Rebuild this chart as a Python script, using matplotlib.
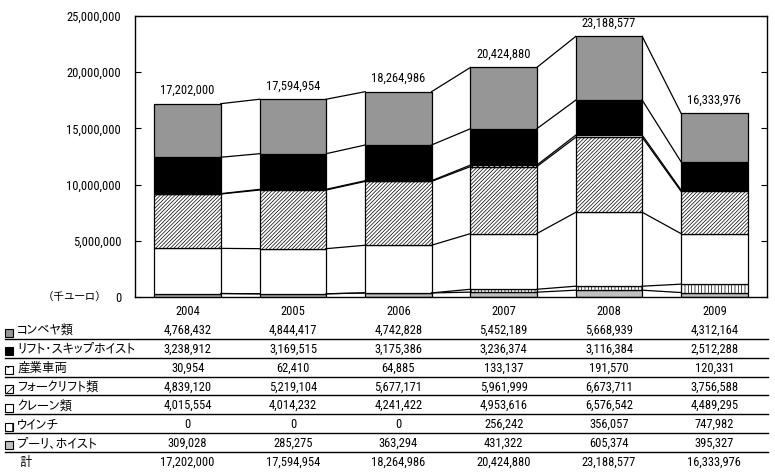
import matplotlib
matplotlib.use('Agg')
import matplotlib.pyplot as plt
import matplotlib.patches as mpatches
import matplotlib.transforms as mtransforms
from matplotlib.ticker import FuncFormatter
import numpy as np

# データ（千ユーロ）
years = ['2004', '2005', '2006', '2007', '2008', '2009']
pulley = [309028, 285275, 363294, 431322, 605374, 395327]
winch = [0, 0, 0, 256242, 356057, 747982]
crane = [4015554, 4014232, 4241422, 4953616, 6576542, 4489295]
forklift = [4839120, 5219104, 5677171, 5961999, 6673711, 3756588]
industrial = [30954, 62410, 64885, 133137, 191570, 120331]
skip_hoist = [3238912, 3169515, 3175386, 3236374, 3116384, 2512288]
conveyor = [4768432, 4844417, 4742828, 5452189, 5668939, 4312164]
totals = [17202000, 17594954, 18264986, 20424880, 23188577, 16333976]

# 下から積む順 (名前, 値, 色, バーのハッチ, 凡例のハッチ)
series = [
    ('プーリ、ホイスト', pulley, '#c0c0c0', None, None),
    ('ウインチ', winch, 'white', '|||||', '||'),
    ('クレーン類', crane, 'white', None, None),
    ('フォークリフト類', forklift, 'white', '/////////', '//'),
    ('産業車両', industrial, 'white', '...', '..'),
    ('リフト・スキップホイスト', skip_hoist, 'black', None, None),
    ('コンベヤ類', conveyor, '#969696', None, None),
]

plt.rcParams['font.family'] = ['Roboto Condensed', 'IPAPGothic', 'Noto Sans CJK JP']
plt.rcParams['hatch.linewidth'] = 0.5
fs = 9

W, H = 775, 476
fig = plt.figure(figsize=(W / 100, H / 100), dpi=100)
ax = fig.add_axes([135 / W, 1 - 297 / H, (767 - 135) / W, (297 - 16) / H])

x = np.arange(len(years))
bw = 0.63
bottom = np.zeros(len(years))
levels = []
for name, vals, color, hatch, _ in series:
    vals = np.array(vals, dtype=float)
    ax.bar(x, vals, bw, bottom=bottom, color=color, hatch=hatch,
           edgecolor='black', linewidth=0.9)
    bottom = bottom + vals
    levels.append(bottom.copy())

# 系列線
for lev in levels:
    for i in range(len(years) - 1):
        ax.plot([i + bw / 2, i + 1 - bw / 2], [lev[i], lev[i + 1]],
                color='black', linewidth=0.9)

for i, t in enumerate(totals):
    ax.text(i, t + 600000, f'{t:,}', ha='center', va='bottom', fontsize=fs)

ax.set_xlim(-0.5, len(years) - 0.5)
ax.set_ylim(0, 25000000)
ax.set_yticks(np.arange(0, 25000001, 5000000))
ax.yaxis.set_major_formatter(FuncFormatter(lambda v, p: f'{int(v):,}'))
ax.tick_params(axis='y', direction='in', length=4, labelsize=fs, right=True, pad=10)
ax.set_xticks(x)
ax.set_xticklabels(years, fontsize=fs)
ax.tick_params(axis='x', length=0, pad=6)
for s in ax.spines.values():
    s.set_linewidth(1.0)

fig.text(48 / W, 1 - 297 / H, '（千ユーロ）', fontsize=fs - 1, va='center', ha='left')

# 下の表
trans = mtransforms.blended_transform_factory(ax.transData, fig.transFigure)
rows = list(reversed(series))
row0, step = 330.5, 18.8
for r, (name, vals, color, _, lhatch) in enumerate(rows):
    yc = row0 + step * r
    fy = 1 - yc / H
    fig.patches.append(mpatches.Rectangle((5 / W, 1 - (yc + 6) / H), 8 / W, 8 / H,
                                          transform=fig.transFigure, facecolor=color,
                                          hatch=lhatch, edgecolor='black', linewidth=0.8))
    fig.text(17 / W, fy, name, fontsize=fs, va='center', ha='left')
    for i, v in enumerate(vals):
        fig.text(i, fy, f'{v:,}', transform=trans, fontsize=fs, va='center', ha='center')
    ly = 1 - (yc + 8.5) / H
    fig.add_artist(plt.Line2D([5 / W, 768 / W], [ly, ly], color='black', linewidth=1.0,
                              transform=fig.transFigure))

yc = row0 + step * len(rows)
fig.text(19 / W, 1 - yc / H, '計', fontsize=fs, va='center', ha='left')
for i, t in enumerate(totals):
    fig.text(i, 1 - yc / H, f'{t:,}', transform=trans, fontsize=fs, va='center', ha='center')

fig.savefig('out.png', dpi=100)
